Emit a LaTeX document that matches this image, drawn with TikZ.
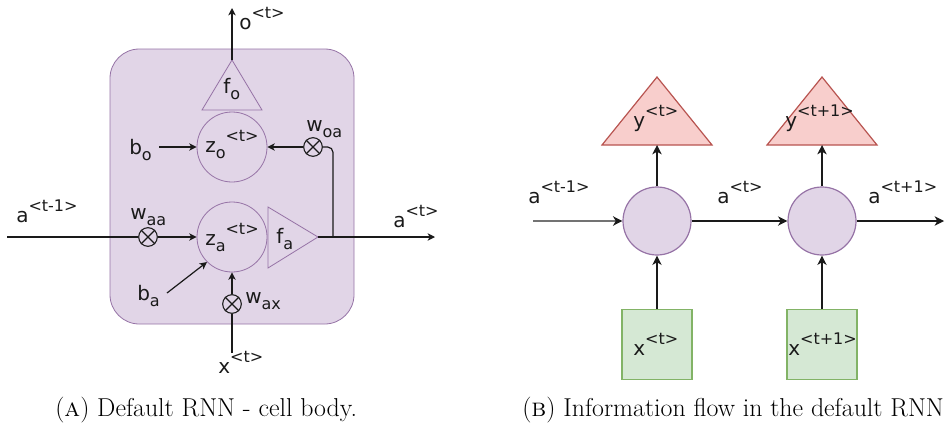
\documentclass[tikz,border=0pt]{standalone}
\usepackage{fontspec}
\newfontfamily\lab{DejaVu Sans}
\usetikzlibrary{arrows.meta}
\definecolor{pfill}{HTML}{E1D5E7}
\definecolor{pline}{HTML}{9673A6}
\definecolor{rfill}{HTML}{F8CECC}
\definecolor{rline}{HTML}{B85450}
\definecolor{gfill}{HTML}{D5E8D4}
\definecolor{gline}{HTML}{82B366}
\definecolor{ink}{HTML}{1A1A1A}
\newcommand\sps[1]{\raisebox{0.55em}{\fontsize{12}{12}\selectfont #1}}
\newcommand\sbs[1]{\raisebox{-0.3em}{\fontsize{12}{12}\selectfont #1}}
\begin{document}
\begin{tikzpicture}[x=0.75pt,y=-0.75pt,
  lbl/.style={font=\lab\fontsize{15}{18}\selectfont, inner sep=0pt, text=ink},
  captext/.style={font=\fontsize{19.4}{22}\selectfont, inner sep=0pt},
  arr/.style={draw=ink, line width=0.9pt, -{Stealth[length=5.5pt,width=5.5pt,inset=1.5pt]}},
  barr/.style={draw=ink, line width=1pt, -{Stealth[length=7pt,width=7pt,inset=2pt]}},
  ln/.style={draw=ink, line width=0.9pt},
  zc/.style={circle, draw=pline, line width=0.6pt, minimum size=52.5pt, inner sep=0pt},
  ox/.style={circle, draw=ink, line width=0.8pt, minimum size=14pt, inner sep=0pt},
  ptri/.style={draw=pline, line width=0.6pt},
  bc/.style={circle, draw=pline, fill=pfill, line width=0.9pt, minimum size=51pt, inner sep=0pt},
  xb/.style={rectangle, draw=gline, fill=gfill, line width=1pt, minimum size=52.5pt, inner sep=0pt},
  rtri/.style={draw=rline, fill=rfill, line width=0.9pt},
  garr/.style={draw=black!55, line width=1.5pt, -{Stealth[length=7pt,width=7pt,inset=2pt,color=ink]}}
]
\useasboundingbox (0,0) rectangle (945,425);

% ---------------- Panel A ----------------
\node[draw=pline, fill=pfill, line width=0.6pt, rounded corners=22pt,
      minimum width=183pt, minimum height=206.25pt, inner sep=0pt] (cell) at (232,186.5) {};

\node[zc] (zo) at (232,147) {};
\node[zc] (za) at (232,237) {};
\node[lbl, anchor=base west] (zotxt) at (205,152) {z\sbs{o}\sps{<t>}};
\node[lbl, anchor=base west] (zatxt) at (205,245) {z\sbs{a}\sps{<t>}};

% f_o triangle
\coordinate (foT) at (232,60);
\coordinate (foB) at (232,110);
\draw[ptri] (202,110) -- (foT) -- (262,110) -- cycle;
\node[lbl, anchor=base west] (fo) at (223,93) {f\sbs{o}};

% f_a triangle
\coordinate (faL) at (268,237);
\coordinate (faT) at (318,237);
\draw[ptri] (268,207) -- (faT) -- (268,268) -- cycle;
\node[lbl, anchor=base west] (fa) at (276,243) {f\sbs{a}};

% otimes
\node[ox] (woa) at (313,147) {};
\node[ox] (waa) at (148,237) {};
\node[ox] (wax) at (232,304) {};
\foreach \n in {woa,waa,wax} {\draw[ln] (\n.45) -- (\n.225) (\n.135) -- (\n.315);}

% labels
\node[lbl, anchor=base west] (ot) at (239,29) {o\sps{<t>}};
\node[lbl, anchor=base west] (bo) at (129,154) {b\sbs{o}};
\node[lbl, anchor=base west] (woal) at (306,131) {w\sbs{oa}};
\node[lbl, anchor=base west] (waal) at (130,219) {w\sbs{aa}};
\node[lbl, anchor=base west] (aprev) at (16,222) {a\sps{<t-1>}};
\node[lbl, anchor=base west] (acur) at (393,227) {a\sps{<t>}};
\node[lbl, anchor=base west] (ba) at (137,300) {b\sbs{a}};
\node[lbl, anchor=base west] (waxl) at (245,303) {w\sbs{ax}};
\node[lbl, anchor=base west] (xt) at (218,373) {x\sps{<t>}};

% connectors
\coordinate (oend) at (232,8);
\draw[arr] (foT) -- (oend);
\coordinate (boS) at (159,147);
\draw[arr] (boS) -- (zo.west);
\draw[arr] (woa.west) -- (zo.east);
\coordinate (ain) at (7,237);
\draw[ln] (ain) -- (waa.west);
\draw[arr] (waa.east) -- (za.west);
\coordinate (aend) at (435,237);
\draw[arr] (faT) -- (aend);
\coordinate (jn) at (333,237);
\draw[ln, rounded corners=4pt] (jn) |- (woa.east);
\coordinate (baS) at (167,293);
\draw[arr] (baS) -- (za.225);
\draw[arr] (wax.north) -- (za.south);
\coordinate (xin) at (232,353);
\draw[ln] (xin) -- (wax.south);

% ---------------- Panel B ----------------
\node[bc] (c1) at (657,221) {};
\node[bc] (c2) at (822,221) {};
\node[xb] (x1) at (657,344.5) {};
\node[xb] (x2) at (822,344.5) {};
\node[lbl, anchor=base west] (x1t) at (633,355) {x\sps{<t>}};
\node[lbl, anchor=base west] (x2t) at (788,355) {x\sps{<t+1>}};

\coordinate (t1b) at (657,145);
\coordinate (t2b) at (822,145);
\draw[rtri] (602,145) -- (657,77) -- (712,145) -- cycle;
\draw[rtri] (767,145) -- (822,77) -- (877,145) -- cycle;
\node[lbl, anchor=base west] (y1) at (633,127) {y\sps{<t>}};
\node[lbl, anchor=base west] (y2) at (785,127) {y\sps{<t+1>}};

\node[lbl, anchor=base west] (b1) at (528,203) {a\sps{<t-1>}};
\node[lbl, anchor=base west] (b2) at (717,203) {a\sps{<t>}};
\node[lbl, anchor=base west] (b3) at (868,203) {a\sps{<t+1>}};

\coordinate (bin) at (533,221);
\coordinate (bout) at (944,221);
\draw[garr] (bin) -- (c1.west);
\draw[barr] (c1.east) -- (c2.west);
\draw[barr] (c2.east) -- (bout);
\draw[barr] (c1.north) -- (t1b);
\draw[barr] (c2.north) -- (t2b);
\draw[barr] (x1.north) -- (c1.south);
\draw[barr] (x2.north) -- (c2.south);

% captions
\node[captext, anchor=base west] (capA) at (55,416) {(\textsc{a}) Default RNN - cell body.};
\node[captext, anchor=base west] (capB) at (522,416) {(\textsc{b}) Information flow in the default RNN};
\end{tikzpicture}
\end{document}
